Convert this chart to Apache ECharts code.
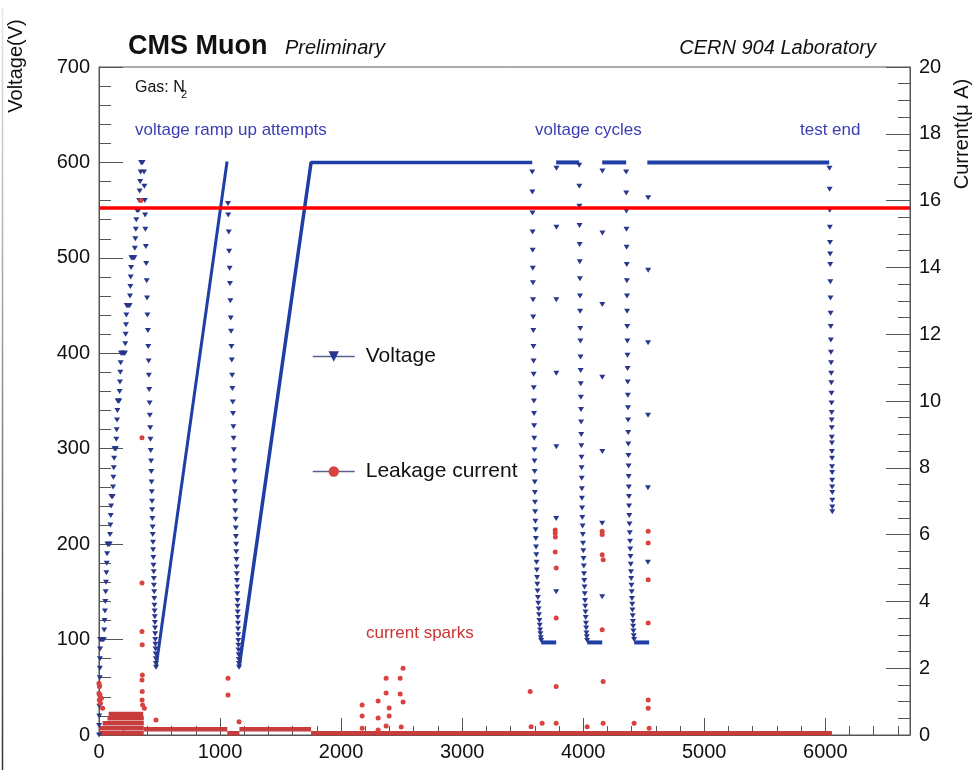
<!DOCTYPE html>
<html>
<head>
<meta charset="utf-8">
<script src="https://cdn.jsdelivr.net/npm/echarts@6/dist/echarts.min.js"></script>
<style>
  html, body { margin: 0; padding: 0; background: #fff; }
  #chart { width: 979px; height: 770px; }
</style>
</head>
<body>
<div id="chart"></div>
<script>
// time axis ticks, voltage (left) and current (right) ranges
const xTicks = [0, 1000, 2000, 3000, 4000, 5000, 6000]
const xMax = 6700
const vMax = 700
const iMax = 20
const redLineVolt = 553

// voltage: first step-wise ramp up (markers)
const voltStairs = [
  [0,0],[1,10],[2,20],[3,30],[4,40],[5,50],[6,60],[7,70],[8,80],[9,90],
  [10,100],[16,100],[22,100],[28,100],[34,100],[40,100],
  [43,110],[46,120],[49,130],[52,140],[55,150],[58,160],[61,170],[64,180],[67,190],
  [70,200],[76,200],[82,200],[88,200],
  [91,210],[94,220],[97,230],[100,240],[103,250],[108,250],[113,250],
  [116,260],[119,270],[122,280],[125,290],[128,300],[134,300],[140,300],
  [143,310],[146,320],[149,330],[152,340],[155,350],[161,350],[167,350],
  [170,360],[173,370],[176,380],[179,390],[182,400],[190,400],[198,400],[206,400],[214,400],
  [217,410],[220,420],[223,430],[226,440],[229,450],[237,450],[245,450],[253,450],
  [256,460],[259,470],[262,480],[265,490],[268,500],[276,500],[284,500],[292,500],
  [296,510],[300,520],[304,530],[308,540],[312,550],[320,550],[328,550],
  [332,560],[336,570],[340,580],[344,590],[348,600],[354,600],[360,600]
]

// voltage drops (markers)
const voltDrop1 = [
  [372,590],[375,575],[378,560],[381,545],[383,530],[387,512],[390,494],[394,476],[397,458],[400,440],
  [404,424],[407,407],[410,392],[412,377],[415,362],[418,348],[420,335],[423,322],[425,310],[427,298],
  [430,287],[432,276],[434,265],[436,255],[438,245],[439,236],[441,227],[443,218],[444,210],[446,202],
  [447,194],[449,186],[450,178],[452,171],[453,164],[454,157],[456,150],[457,143],[458,136],[459,130],
  [461,124],[462,118],[463,112],[464,106],[465,100],[466,95],[467,90],[468,85],[469,80],[470,75],[471,71]
]
const voltDrop2 = [
  [1066,557],[1068,545],[1072,527],[1075,507],[1079,489],[1082,473],[1085,455],[1088,437],[1091,423],[1094,407],
  [1097,393],[1100,377],[1102,363],[1105,349],[1107,337],[1110,323],[1112,311],[1114,299],[1116,287],[1118,277],
  [1121,265],[1122,255],[1124,245],[1126,235],[1128,226],[1130,217],[1131,208],[1133,200],[1134,192],[1136,184],
  [1137,176],[1139,169],[1140,162],[1141,155],[1142,148],[1144,141],[1145,135],[1146,129],[1147,123],[1148,117],
  [1149,111],[1150,105],[1151,99],[1152,94],[1153,89],[1154,84],[1155,79],[1156,75],[1157,71]
]
const voltDropA = [
  [3579,590],[3580,569],[3581,547],[3582,527],[3583,508],[3584,489],[3585,474],[3586,456],[3587,438],[3588,424],
  [3589,407],[3590,392],[3591,378],[3592,364],[3593,350],[3594,337],[3595,324],[3596,311],[3597,299],[3598,287],
  [3599,276],[3600,265],[3601,254],[3602,244],[3603,234],[3605,224],[3607,215],[3609,206],[3611,197],[3613,189],
  [3615,181],[3617,173],[3619,165],[3621,158],[3623,151],[3626,144],[3629,138],[3632,132],[3635,126],[3638,120],
  [3641,115],[3644,110],[3647,106],[3650,102],[3653,99]
]
const voltDropB = [
  [3967,597],[3968,575],[3969,554],[3970,534],[3971,514],[3972,496],[3973,478],[3974,460],[3975,444],[3976,426],
  [3977,413],[3978,396],[3979,382],[3980,368],[3981,354],[3982,341],[3983,328],[3984,315],[3985,303],[3986,291],
  [3987,280],[3988,269],[3989,258],[3990,248],[3991,238],[3993,228],[3995,219],[3997,210],[3999,201],[4001,193],
  [4003,185],[4005,177],[4007,169],[4009,162],[4011,155],[4013,148],[4015,141],[4017,135],[4019,129],[4021,123],
  [4023,117],[4025,112],[4027,107],[4030,103],[4033,99]
]
const voltDropC = [
  [4355,590],[4356,568],[4357,549],[4358,530],[4359,511],[4360,493],[4361,476],[4362,460],[4363,444],[4364,428],
  [4365,413],[4366,398],[4367,384],[4368,370],[4369,356],[4370,343],[4371,330],[4372,317],[4373,305],[4374,293],
  [4375,282],[4376,271],[4377,260],[4378,250],[4379,240],[4381,230],[4383,221],[4385,212],[4387,203],[4389,195],
  [4391,187],[4393,179],[4395,171],[4397,164],[4399,157],[4401,150],[4403,143],[4405,137],[4407,131],[4409,125],
  [4411,119],[4413,114],[4415,109],[4418,104],[4421,100]
]
const voltDropEnd = [
  [6035,594],[6036,572],[6037,550],[6038,532],[6039,516],[6040,504],[6041,493],[6042,475],[6043,458],[6044,442],
  [6045,428],[6046,414],[6047,401],[6048,390],[6049,379],[6050,369],[6051,358],[6052,348],[6053,338],[6053,330],
  [6054,322],[6054,312],[6055,306],[6055,297],[6056,290],[6056,281],[6057,275],[6057,267],[6057,260],[6058,254],
  [6058,246],[6058,239],[6058,234]
]
// voltage rises after the 100 V plateaus (sparse markers)
const voltRiseA = [[3777,150],[3777,227],[3778,302],[3778,379],[3778,456],[3779,532],[3779,594]]
const voltRiseB = [[4157,145],[4157,222],[4158,297],[4158,375],[4158,451],[4159,526],[4159,591]]
const voltRiseC = [[4535,181],[4535,259],[4536,335],[4536,411],[4537,487],[4537,563]]

// voltage: dense parts that render as solid lines
const voltRamp1 = [[471,71],[1058,601]]
const voltRamp2 = [[1157,71],[1752,600],[3579,600]]
const voltFlats = [
  [[3653,97],[3777,97]],
  [[3777,600],[3967,600]],
  [[4033,97],[4157,97]],
  [[4157,600],[4355,600]],
  [[4421,97],[4545,97]],
  [[4530,600],[6033,600]]
]

// leakage current (uA) markers
const curLeft = [
  [0,1.55],[4,1.45],[0,1.25],[8,1.2],[2,1.05],[12,0.95],[20,1.1],[30,0.8],
  [345,16.0],[355,8.9],[355,4.55],[355,3.1],[357,2.7],[358,1.8],[355,1.65],[357,1.3],[356,1.05],[360,0.9],[375,0.8],
  [471,0.45],[1066,1.7],[1066,1.2],[1157,0.4]
]
const curSparks = [
  [2174,0.9],[2174,0.57],[2174,0.2],[2306,1.02],[2306,0.51],[2306,0.15],[2372,1.7],[2372,1.26],[2397,0.81],
  [2397,0.57],[2372,0.27],[2488,1.7],[2488,1.23],[2512,0.99],[2512,2.0],[2497,0.24]
]
const curCycles = [
  [3562,1.3],[3570,0.25],[3661,0.35],[3777,1.45],[3777,0.35],[3769,6.14],[3769,6.05],[3770,5.93],[3769,5.48],
  [3777,5.0],[3777,3.5],[4157,6.1],[4157,6.0],[4157,5.4],[4165,5.25],[4157,3.15],[4165,1.6],[4165,0.35],
  [4033,0.25],[4421,0.35],[4537,6.1],[4537,5.75],[4537,4.65],[4537,3.35],[4537,1.05],[4537,0.8],[4545,0.2]
]
// leakage current: dense baseline bands
const curBands = [
  [[0,0.05],[370,0.05]],
  [[0,0.2],[370,0.2]],
  [[30,0.35],[370,0.35]],
  [[70,0.5],[370,0.5]],
  [[80,0.63],[365,0.63]],
  [[370,0.17],[1060,0.17]],
  [[1060,0.05],[1160,0.05]],
  [[1160,0.17],[1752,0.17]],
  [[1752,0.05],[6055,0.05]]
]

const FONT = '"Liberation Sans", Arial, Helvetica, sans-serif'
const blueMark = '#28368c'
const blueLine = '#1f3ea6'
const redMark = '#d8423f'
const redBand = '#c73c3c'
const axisGray = '#555'
const downTri = 'path://M0,0L10,0L5,9Z'

const chart = echarts.init(document.getElementById('chart'))

const seg = (data, yAxisIndex, color, width, name) => ({
  type: 'line', name, yAxisIndex, data,
  symbol: 'none', silent: true, z: 3,
  lineStyle: { color, width },
})

const voltPoints = [].concat(voltStairs, voltDrop1, voltDrop2, voltDropA, voltRiseA,
  voltDropB, voltRiseB, voltDropC, voltRiseC, voltDropEnd)
const curPoints = [].concat(curLeft, curSparks, curCycles)

const option = {
  animation: false,
  backgroundColor: '#fff',
  textStyle: { fontFamily: FONT },
  grid: { left: 99, right: 69, top: 67, bottom: 35, show: true, borderColor: axisGray, borderWidth: 1 },
  legend: {
    data: ['Voltage', 'Leakage current'],
    orient: 'vertical',
    left: 312, top: 346,
    padding: 0,
    itemWidth: 42, itemHeight: 13,
    itemGap: 94,
    lineStyle: { color: '#56618f', width: 1.5, opacity: 1 },
    textStyle: { fontSize: 21, color: '#111', fontFamily: FONT, padding: [0, 0, 0, 6] },
  },
  xAxis: {
    type: 'value', min: xTicks[0], max: xMax, interval: 1000,
    axisLine: { lineStyle: { color: axisGray } },
    axisTick: { inside: true, length: 17, lineStyle: { color: axisGray } },
    minorTick: { show: true, splitNumber: 5, length: 9, lineStyle: { color: axisGray } },
    splitLine: { show: false },
    axisLabel: {
      fontSize: 20, color: '#111', margin: 7, showMaxLabel: false, fontFamily: FONT,
      formatter: v => String(v),
    },
  },
  yAxis: [
    {
      type: 'value', min: 0, max: vMax, interval: 100, position: 'left',
      axisLine: { show: true, lineStyle: { color: axisGray } },
      axisTick: { inside: true, length: 24, lineStyle: { color: axisGray } },
      minorTick: { show: true, splitNumber: 5, length: 12, lineStyle: { color: axisGray } },
      splitLine: { show: false },
      axisLabel: { fontSize: 20, color: '#111', margin: 9, fontFamily: FONT },
    },
    {
      type: 'value', min: 0, max: iMax, interval: 2, position: 'right',
      axisLine: { show: true, lineStyle: { color: axisGray } },
      axisTick: { inside: true, length: 24, lineStyle: { color: axisGray } },
      minorTick: { show: true, splitNumber: 4, length: 12, lineStyle: { color: axisGray } },
      splitLine: { show: false },
      axisLabel: { fontSize: 20, color: '#111', margin: 9, fontFamily: FONT },
    },
  ],
  series: [
    {
      type: 'line', name: 'Voltage', yAxisIndex: 0, data: voltPoints,
      symbol: downTri, symbolSize: [6, 5], showSymbol: true, z: 4,
      itemStyle: { color: blueMark },
      lineStyle: { width: 0, opacity: 0 },
    },
    seg(voltRamp1, 0, blueLine, 3, 'Voltage'),
    seg(voltRamp2, 0, blueLine, 3.5, 'Voltage'),
    ...voltFlats.map(d => seg(d, 0, blueLine, 4, 'Voltage')),
    {
      type: 'line', name: 'Leakage current', yAxisIndex: 1, data: curPoints,
      symbol: 'circle', symbolSize: 5, showSymbol: true, z: 4,
      itemStyle: { color: redMark },
      lineStyle: { width: 0, opacity: 0 },
    },
    ...curBands.map(d => seg(d, 1, redBand, 4.5, 'Leakage current')),
    {
      type: 'line', name: 'marker', yAxisIndex: 0, data: [], z: 10,
      markLine: {
        silent: true, symbol: 'none', animation: false,
        label: { show: false },
        lineStyle: { color: '#ff0000', width: 3.5, type: 'solid' },
        data: [{ yAxis: redLineVolt }],
      },
    },
  ],
  graphic: [
    {
      type: 'line', silent: true,
      shape: { x1: 2.5, y1: 8, x2: 2.5, y2: 770 },
      style: {
        lineWidth: 1.5,
        stroke: new echarts.graphic.LinearGradient(0, 8, 0, 770, [
          { offset: 0, color: '#e8e8e8' },
          { offset: 1, color: '#333' },
        ], true),
      },
    },
    { type: 'text', x: 128, y: 47, style: { text: 'CMS Muon', font: `bold 27px ${FONT}`, fill: '#111', verticalAlign: 'middle' } },
    { type: 'text', x: 285, y: 48, style: { text: 'Preliminary', font: `italic 20px ${FONT}`, fill: '#111', verticalAlign: 'middle' } },
    { type: 'text', x: 876, y: 48, style: { text: 'CERN 904 Laboratory', font: `italic 20px ${FONT}`, fill: '#111', align: 'right', verticalAlign: 'middle' } },
    { type: 'text', x: 135, y: 88, style: { text: 'Gas: N', font: `16px ${FONT}`, fill: '#111', verticalAlign: 'middle' } },
    { type: 'text', x: 181, y: 95, style: { text: '2', font: `11px ${FONT}`, fill: '#111', verticalAlign: 'middle' } },
    { type: 'text', x: 135, y: 130, style: { text: 'voltage ramp up attempts', font: `17px ${FONT}`, fill: '#3d3db5', verticalAlign: 'middle' } },
    { type: 'text', x: 535, y: 130, style: { text: 'voltage cycles', font: `17px ${FONT}`, fill: '#3d3db5', verticalAlign: 'middle' } },
    { type: 'text', x: 800, y: 130, style: { text: 'test end', font: `17px ${FONT}`, fill: '#3d3db5', verticalAlign: 'middle' } },
    { type: 'text', x: 366, y: 633, style: { text: 'current sparks', font: `17px ${FONT}`, fill: '#cc3333', verticalAlign: 'middle' } },
    {
      type: 'text', x: 16, y: 66, rotation: Math.PI / 2,
      style: { text: 'Voltage(V)', font: `20px ${FONT}`, fill: '#111', align: 'center', verticalAlign: 'middle' },
    },
    {
      type: 'text', x: 962, y: 134, rotation: Math.PI / 2,
      style: { text: 'Current(μ A)', font: `20px ${FONT}`, fill: '#111', align: 'center', verticalAlign: 'middle' },
    },
  ],
}

chart.setOption(option)
</script>
</body>
</html>
